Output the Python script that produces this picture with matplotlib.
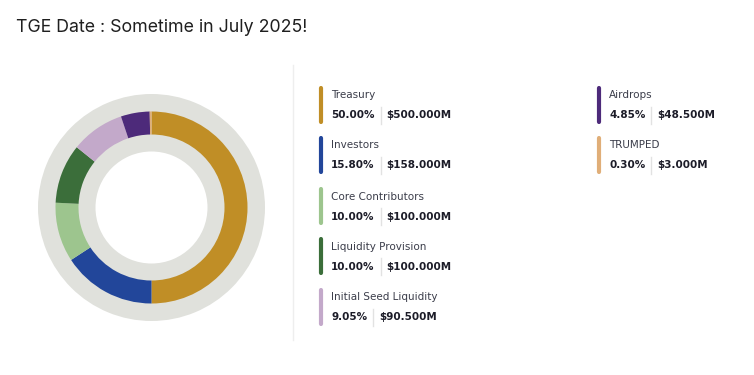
import matplotlib
matplotlib.use("Agg")
import matplotlib.pyplot as plt

# allocation data
labels = ["Treasury", "Investors", "Core Contributors", "Liquidity Provision",
          "Initial Seed Liquidity", "Airdrops", "TRUMPED"]
shares = [50.00, 15.80, 10.00, 10.00, 9.05, 4.85, 0.30]
amounts = ["$500.000M", "$158.000M", "$100.000M", "$100.000M",
           "$90.500M", "$48.500M", "$3.000M"]
colors = ["#C08E26", "#22469A", "#9DC58E", "#3B6E3A", "#C3A9CA", "#4D2A7A", "#E0AE78"]

W, H = 754, 375
fig = plt.figure(figsize=(W / 100, H / 100), dpi=100)
ax = fig.add_axes([0, 0, 1, 1])
ax.set_xlim(0, W)
ax.set_ylim(0, H)
ax.set_aspect("equal")
ax.axis("off")

cx, cy = 151.5, H - 207.5
grey = "#E0E1DC"

# grey background ring
ax.pie([1], radius=113.5, center=(cx, cy), colors=[grey],
       wedgeprops=dict(width=113.5 - 56, linewidth=0))
# coloured ring
ax.pie(shares, radius=96, center=(cx, cy), colors=colors, startangle=90,
       counterclock=False, wedgeprops=dict(width=23, linewidth=0))
ax.set_xlim(0, W)
ax.set_ylim(0, H)

fig.text(16 / W, 1 - 27 / H, "TGE Date : Sometime in July 2025!", fontsize=12.8,
         family="Inter", color="#1f1f1f", va="center", ha="left")

# divider
ax.plot([293, 293], [H - 65, H - 340], color="#EEEEEE", lw=1)

renderer = fig.canvas.get_renderer()
positions = [(321, 88), (321, 138), (321, 189), (321, 239), (321, 290),
             (599, 88), (599, 138)]
for (bx, by), lab, pct, amt, col in zip(positions, labels, shares, amounts, colors):
    ax.plot([bx, bx], [H - by, H - by - 34], color=col, lw=3, solid_capstyle="round")
    ax.text(bx + 10, H - by - 7.5, lab, fontsize=7.5, family="DejaVu Sans", color="#3b3d4a",
            va="center", ha="left")
    t = ax.text(bx + 10, H - by - 27.5, f"{pct:.2f}%", fontsize=7.5, family="DejaVu Sans",
                fontweight="bold", color="#1c1c28", va="center", ha="left")
    bb = t.get_window_extent(renderer)
    sx = bb.x1 + 6
    ax.plot([sx, sx], [H - by - 19, H - by - 36], color="#E2E2E2", lw=1)
    ax.text(sx + 6, H - by - 27.5, amt, fontsize=7.5, family="DejaVu Sans",
            fontweight="bold", color="#1c1c28", va="center", ha="left")

fig.savefig("out.png", dpi=100)
